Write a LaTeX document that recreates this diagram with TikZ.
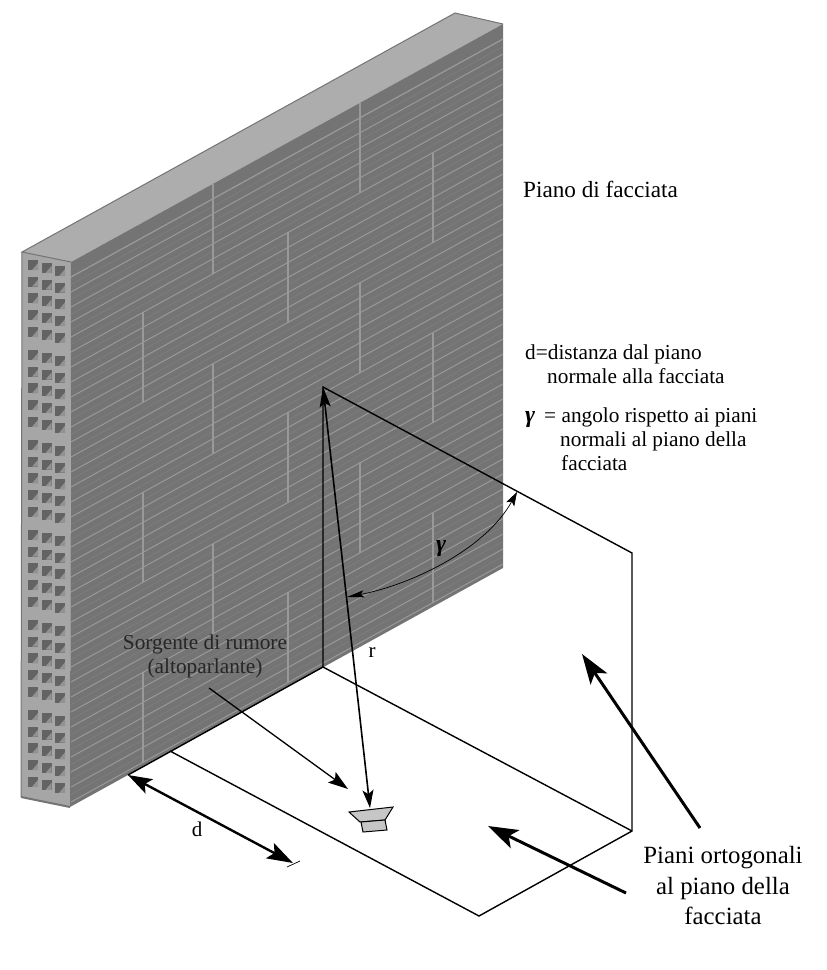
\documentclass[tikz,border=0pt]{standalone}
\usepackage{fontspec}
\setmainfont{Liberation Serif}
\usetikzlibrary{arrows.meta}
\definecolor{wallface}{HTML}{747474}
\definecolor{wallline}{HTML}{999999}
\definecolor{wallrim}{HTML}{ADADAD}
\definecolor{wallhole}{HTML}{636363}
\definecolor{wallside}{HTML}{A6A6A6}
\definecolor{hornfill}{HTML}{C6C6C6}
\tikzset{
  planeline/.style={line width=1.4pt, black},
  legend/.style={anchor=base west, inner sep=0pt, font=\fontsize{21.3}{24}\selectfont},
  pointer/.style={line width=3pt, -{Stealth[length=30pt, width=20pt, inset=7pt]}},
}
\begin{document}
\begin{tikzpicture}[x=1pt,y=-1pt]
  \useasboundingbox (0,0) rectangle (827,970);

  %Wall
  \fill[wallside] (22,252) -- (71,262) -- (70,807) -- (21,797) -- cycle;
  \fill[wallrim] (22,252) -- (455,13) -- (503,24) -- (71,262) -- cycle;
  \draw[wallface, line width=1pt] (71,262) -- (22,252) -- (455,13) -- (503,24);
  \draw[wallface, line width=1pt] (22,252) -- (21,797);
  \draw[wallface, line width=2pt] (21,797) -- (70,807);
  \fill[wallface] (71,262) -- (503,24) -- (503,568) -- (70,807) -- cycle;

  %Courses
  \begin{scope}
    \clip (71,262) -- (503,24) -- (503,568) -- (70,807) -- cycle;
    \foreach \k in {1,...,36} {
      \draw[wallline, line width=1pt] (71,262+15*\k) -- (503,24+15*\k);
      \draw[wallline!30!wallface, line width=0.6pt] (71,269.5+15*\k) -- (503,31.5+15*\k);
    }
    \draw[wallline, line width=1pt] (71,277) -- (503,39);
    \foreach \k in {0,2,4} \foreach \x in {213,360} {
      \draw[wallline, line width=1.6pt] (\x,262+90*\k-0.551*\x+39.1) -- (\x,262+90*\k+90-0.551*\x+39.1);
    }
    \foreach \k in {1,3,5} \foreach \x in {143,288,433} {
      \draw[wallline, line width=1.6pt] (\x,262+90*\k-0.551*\x+39.1) -- (\x,262+90*\k+90-0.551*\x+39.1);
    }
  \end{scope}

  %Holes
  \foreach \g in {0,...,5} {
    \foreach \r in {0,...,4} {
      \foreach \c in {0,1,2} {
        \fill[wallhole] ({28+13.5*\c},{260+90*\g+16.7*\r+3*\c}) rectangle +(10,10);
        \fill[wallside!70!wallhole] ({38+13.5*\c},{263+90*\g+16.7*\r+3*\c}) -- +(0,7) -- +(-6,7) -- cycle;
      }
    }
  }

  %Planes
  \coordinate (WallLow) at (323,667);
  \coordinate (WallEnd) at (128,775);
  \coordinate (Apex) at (323,387);
  \coordinate (PlaneTop) at (632,553);
  \coordinate (PlaneLow) at (632,831);
  \coordinate (FloorLow) at (479,916);
  \coordinate (FloorEnd) at (170,751);
  \draw[planeline] (WallEnd) -- (WallLow) -- (Apex) -- (PlaneTop) -- (PlaneLow) -- (FloorLow) -- (FloorEnd);
  \draw[planeline] (WallLow) -- (PlaneLow);

  %Loudspeaker
  \coordinate (HornTop) at (370,808);
  \draw[black, line width=1pt, fill=hornfill] (349,812) -- (393,807) -- (385,820) -- (360,822) -- cycle;
  \draw[black, line width=1pt, fill=hornfill] (361,822) -- (385,820) -- (387,830) -- (363,832) -- cycle;

  %Distance r
  \draw[line width=1.6pt, {Stealth[length=20pt, width=11pt, inset=4pt]}-{Stealth[length=18pt, width=11pt, inset=4pt]}] (Apex) -- (HornTop);
  \node[inner sep=0pt, font=\fontsize{21}{24}\selectfont, anchor=base] (LabelR) at (372,657) {r};

  %Angle
  \coordinate (AngleA) at (347,597);
  \coordinate (AngleB) at (517,492);
  \draw[line width=0.7pt, {Stealth[length=17pt, width=7pt, inset=3pt]}-{Stealth[length=14pt, width=9pt, inset=3pt]}]
    (AngleA) .. controls (410,585) and (485,550) .. (AngleB);
  \node[inner sep=0pt, font=\fontsize{24}{24}\selectfont\bfseries\itshape] (LabelGamma) at (441,549) {γ};

  %Source label
  \node[inner sep=0pt, align=center, text=black!85, font=\fontsize{21.3}{24}\selectfont] (Source) at (205,656)
    {Sorgente di rumore\\(altoparlante)};
  \coordinate (SourceFrom) at (209,688);
  \coordinate (SourceTo) at (348,789);
  \draw[line width=1.3pt, -{Stealth[length=20pt, width=13pt, inset=4pt]}] (SourceFrom) -- (SourceTo);

  %Distance d
  \coordinate (DistEnd) at (293,863);
  \coordinate (TickA) at (287,867);
  \coordinate (TickB) at (300,861);
  \draw[line width=2.4pt, {Stealth[length=24pt, width=16pt, inset=5pt]}-{Stealth[length=26pt, width=17pt, inset=5pt]}] (WallEnd) -- (DistEnd);
  \draw[line width=0.7pt] (TickA) -- (TickB);
  \node[inner sep=0pt, font=\fontsize{21}{24}\selectfont, anchor=base] (LabelD) at (197,836) {d};

  %Facade label and legend
  \node[anchor=base west, inner sep=0pt, font=\fontsize{23.2}{26}\selectfont] (Facade) at (523,197) {Piano di facciata};
  \node[legend] (LegendA) at (525,359) {d=distanza dal piano};
  \node[legend] (LegendB) at (547,383) {normale alla facciata};
  \node[legend, font=\fontsize{24}{24}\selectfont\bfseries\itshape] (LegendGamma) at (525,422) {γ};
  \node[legend] (LegendC) at (544,422) {= angolo rispetto ai piani};
  \node[legend] (LegendD) at (560,446) {normali al piano della};
  \node[legend] (LegendE) at (561,470) {facciata};

  %Orthogonal planes label
  \node[inner sep=0pt, align=center, font=\fontsize{24.8}{30.5}\selectfont] (Planes) at (723,886)
    {Piani ortogonali\\al piano della\\facciata};
  \coordinate (PlanesA) at (700,828);
  \coordinate (PlanesATip) at (582,654);
  \coordinate (PlanesB) at (626,893);
  \coordinate (PlanesBTip) at (488,826);
  \draw[pointer] (PlanesA) -- (PlanesATip);
  \draw[pointer] (PlanesB) -- (PlanesBTip);
\end{tikzpicture}
\end{document}
